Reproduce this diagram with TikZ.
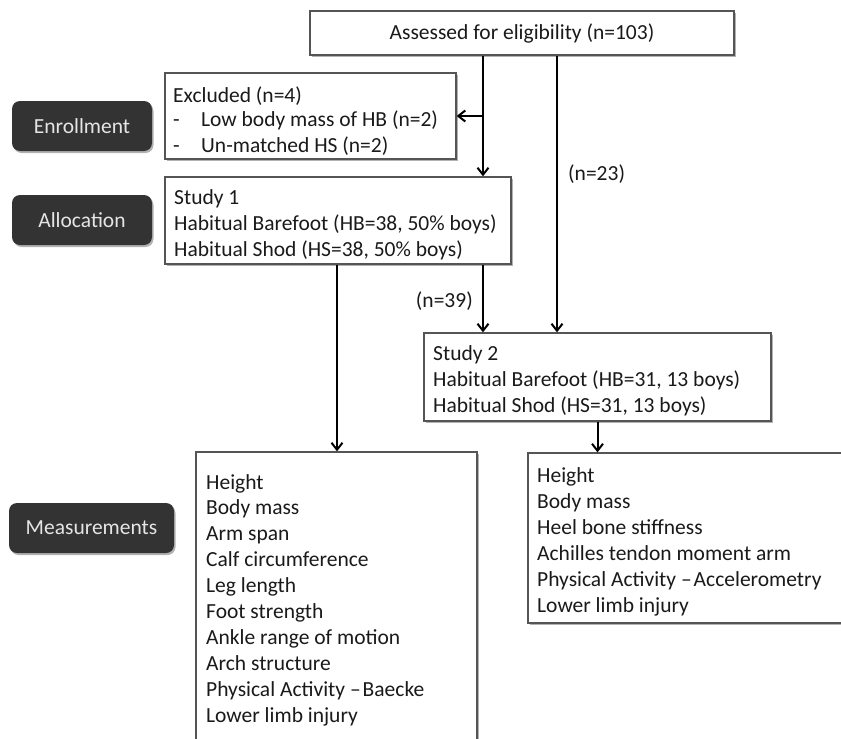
\documentclass[tikz,border=0pt]{standalone}
\usepackage{fontspec}
\setmainfont{Carlito}
\usetikzlibrary{arrows.meta,shadows}
\definecolor{pillfill}{HTML}{333333}
\definecolor{boxline}{HTML}{555555}
\definecolor{ink}{HTML}{1A1A1A}
\begin{document}
\begin{tikzpicture}[x=1pt,y=-1pt,
  font=\fontsize{21.5}{26}\selectfont,
  box/.style={draw=boxline,line width=1.3pt,fill=white,inner sep=0pt,text=ink,
    drop shadow={shadow xshift=1.5pt,shadow yshift=-1.5pt,opacity=0.3,fill=black}},
  pill/.style={fill=pillfill,rounded corners=8pt,inner sep=0pt,text=white!90!black,
    minimum height=50pt,
    drop shadow={shadow xshift=1.5pt,shadow yshift=-2pt,opacity=0.3,fill=black}},
  txt/.style={anchor=west,inner sep=0pt,text=ink,text height=14pt,text depth=5pt,yshift=-2.5pt},
  arr/.style={line width=2pt,-{Straight Barb[length=7pt,width=11pt]}}]
\clip (0,0) rectangle (841,739);
\fill[white] (0,0) rectangle (841,739);

% phase labels
\node[pill,minimum width=140pt] (enr) at (82,126) {Enrollment};
\node[pill,minimum width=140pt] (alloc) at (82,220) {Allocation};
\node[pill,minimum width=165pt] (meas) at (91.5,528) {Measurements};

% boxes
\node[box,minimum width=424pt,minimum height=44pt] (top) at (522,33) {Assessed for eligibility (n=103)};
\node[box,minimum width=291pt,minimum height=86pt] (excl) at (310.5,116) {};
\node[box,minimum width=346pt,minimum height=87pt] (s1) at (338,220.5) {};
\node[box,minimum width=347pt,minimum height=88pt] (s2) at (597.5,377) {};
\node[box,minimum width=281pt,minimum height=310pt] (m1) at (336.5,607) {};
\node[box,minimum width=315pt,minimum height=170pt] (m2) at (685.5,538) {};

% texts
\node[txt] (ex1) at (173,95) {Excluded (n=4)};
\node[txt] (ex2) at (173,119) {\makebox[28pt][l]{-}Low body mass of HB (n=2)};
\node[txt] (ex3) at (173,145) {\makebox[28pt][l]{-}Un-matched HS (n=2)};

\foreach \t [count=\i] in {Study 1,{Habitual Barefoot (HB=38, 50\% boys)},{Habitual Shod (HS=38, 50\% boys)}}
  \node[txt] (s1-\i) at (174,{197+26*(\i-1)}) {\t};
\foreach \t [count=\i] in {Study 2,{Habitual Barefoot (HB=31, 13 boys)},{Habitual Shod (HS=31, 13 boys)}}
  \node[txt] (s2-\i) at (433,{353+26*(\i-1)}) {\t};
\foreach \t [count=\i] in {Height,Body mass,Arm span,Calf circumference,Leg length,Foot strength,Ankle range of motion,Arch structure,{Physical Activity –\hspace{2pt}Baecke},Lower limb injury}
  \node[txt] (m1-\i) at (206,{482+25.9*(\i-1)}) {\t};
\foreach \t [count=\i] in {Height,Body mass,Heel bone stiffness,Achilles tendon moment arm,{Physical Activity –\hspace{2pt}Accelerometry},Lower limb injury}
  \node[txt] (m2-\i) at (537,{475+26*(\i-1)}) {\t};

% connectors
\coordinate (xa) at (483,0);
\coordinate (xb) at (557,0);
\coordinate (xc) at (337,0);
\draw[arr] (top.south -| xa) -- (s1.north -| xa);
\draw[arr] (xa |- excl.east) -- (excl.east);
\draw[arr] (top.south -| xb) -- (s2.north -| xb);
\draw[arr] (s1.south -| xa) -- (s2.north -| xa);
\draw[arr] (s1.south -| xc) -- (m1.north -| xc);
\draw[arr] (s2.south) -- (s2.south |- m2.north);
\node[txt] (n23) at (568,173) {(n=23)};
\node[txt,anchor=east] (n39) at (473,300) {(n=39)};
\end{tikzpicture}
\end{document}
